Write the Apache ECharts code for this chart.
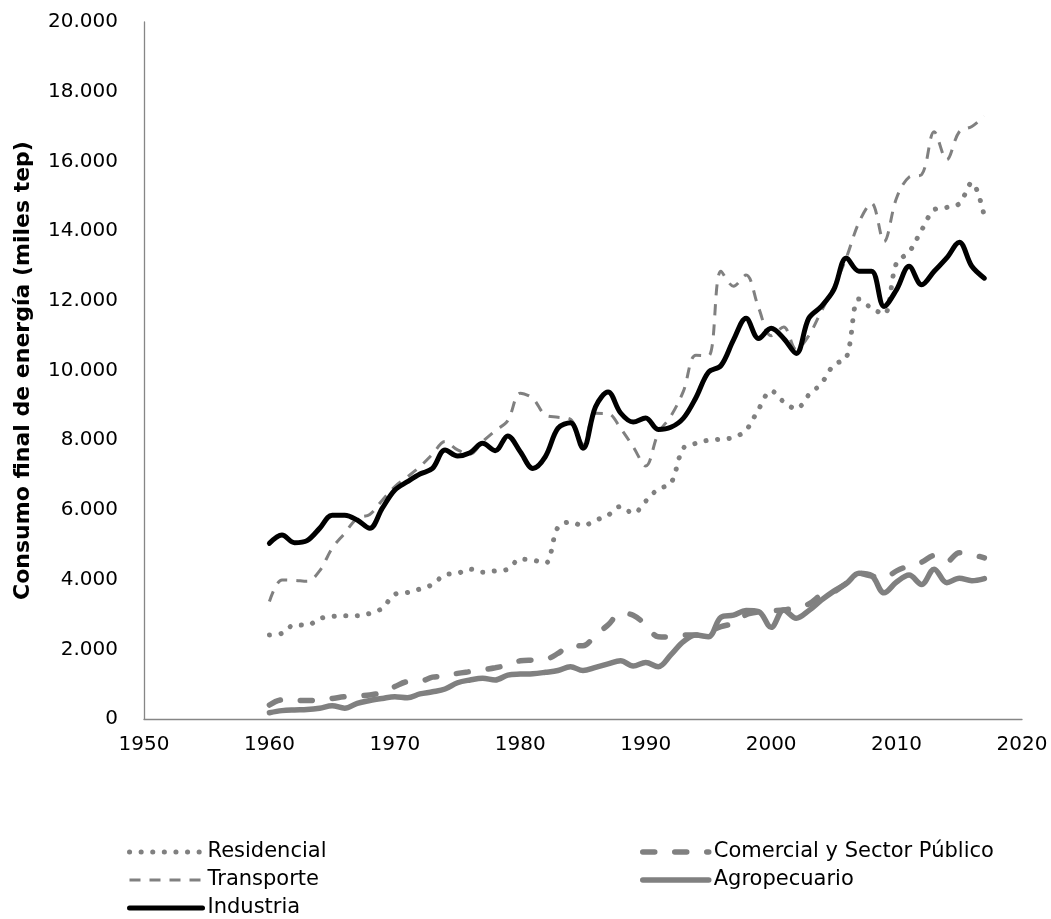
<!DOCTYPE html>
<html>
<head>
<meta charset="utf-8">
<style>
  html, body { margin: 0; padding: 0; background: #fff; }
  #chart { width: 1051px; height: 919px; }
</style>
<script src="https://cdn.jsdelivr.net/npm/echarts@6/dist/echarts.min.js"></script>
</head>
<body>
<div id="chart"></div>
<script>
// years 1960..2017
const years = [
  1960, 1961, 1962, 1963, 1964, 1965, 1966, 1967, 1968, 1969,
  1970, 1971, 1972, 1973, 1974, 1975, 1976, 1977, 1978, 1979,
  1980, 1981, 1982, 1983, 1984, 1985, 1986, 1987, 1988, 1989,
  1990, 1991, 1992, 1993, 1994, 1995, 1996, 1997, 1998, 1999,
  2000, 2001, 2002, 2003, 2004, 2005, 2006, 2007, 2008, 2009,
  2010, 2011, 2012, 2013, 2014, 2015, 2016, 2017
];

const residencial = [
  2410, 2460, 2700, 2690, 2880, 2940, 2960, 2960, 3030, 3180,
  3580, 3630, 3730, 3860, 4140, 4180, 4300, 4210, 4250, 4300,
  4590, 4560, 4470, 5500, 5650, 5550, 5700, 5850, 6100, 5900,
  6250, 6600, 6760, 7770, 7910, 8000, 8030, 8080, 8290, 8890,
  9420, 9100, 8900, 9300, 9630, 10160, 10370, 12050, 11790, 11620,
  13090, 13400, 14030, 14610, 14680, 14790, 15390, 14420
];

const comercial = [
  400, 550, 540, 530, 550, 590, 640, 660, 690, 760,
  930, 1070, 1080, 1200, 1230, 1310, 1360, 1410, 1470, 1550,
  1670, 1690, 1710, 1880, 2120, 2100, 2410, 2700, 3030, 2980,
  2700, 2360, 2350, 2410, 2410, 2500, 2650, 2750, 2990, 3070,
  3100, 3130, 3200, 3300, 3560, 3650, 3900, 4180, 4100, 4050,
  4250, 4400, 4500, 4690, 4520, 4770, 4720, 4620
];

const transporte = [
  3370, 3990, 3980, 3950, 4250, 4900, 5330, 5760, 5870, 6280,
  6670, 6950, 7240, 7600, 7960, 7720, 7600, 7960, 8270, 8560,
  9350, 9200, 8720, 8660, 8600, 7900, 8770, 8760, 8340, 7810,
  7260, 8200, 8690, 9400, 10440, 10420, 12850, 12420, 12740, 11800,
  11000, 11250, 10600, 11000, 11700, 12400, 13240, 14250, 14800, 13700,
  14950, 15550, 15620, 16850, 16050, 16850, 17000, 17300
];

const agropecuario = [
  180, 240, 260, 270, 310, 380, 310, 450, 530, 590,
  640, 610, 720, 780, 860, 1040, 1120, 1170, 1120, 1260,
  1290, 1300, 1340, 1390, 1500, 1390, 1480, 1580, 1670, 1520,
  1620, 1500, 1840, 2220, 2410, 2360, 2920, 2980, 3110, 3080,
  2630, 3130, 2890, 3110, 3410, 3670, 3890, 4180, 4120, 3620,
  3930, 4130, 3860, 4300, 3910, 4040, 3970, 4030
];

const industria = [
  5040, 5280, 5060, 5120, 5470, 5850, 5850, 5710, 5470, 6050,
  6570, 6810, 7030, 7190, 7720, 7550, 7640, 7910, 7700, 8120,
  7670, 7190, 7530, 8340, 8500, 7770, 8960, 9380, 8780, 8520,
  8640, 8310, 8370, 8630, 9220, 9950, 10140, 10880, 11500, 10920,
  11210, 10920, 10490, 11500, 11840, 12320, 13230, 12850, 12850, 11840,
  12320, 12990, 12460, 12850, 13230, 13680, 12990, 12650
];

const FONT = 'DejaVu Sans';
const GRAY = '#808080';

function pairs(values) {
  return years.map((y, i) => [y, values[i]]);
}

function fmtThousands(v) {
  return String(v).replace(/\B(?=(\d{3})+(?!\d))/g, '.');
}

const chart = echarts.init(document.getElementById('chart'));

const legendBase = {
  orient: 'vertical',
  top: 841,
  padding: 0,
  itemWidth: 73,
  itemHeight: 22,
  itemGap: 6,
  itemStyle: { opacity: 0 },
  lineStyle: { width: 'inherit', type: 'inherit', cap: 'inherit' },
  textStyle: { fontFamily: FONT, fontSize: 21, lineHeight: 22, color: '#000' },
};

chart.setOption({
  animation: false,
  backgroundColor: '#fff',
  grid: { left: 144, right: 29, top: 22, bottom: 200, containLabel: false },
  legend: [
    { ...legendBase, left: 127, data: ['Residencial', 'Transporte', 'Industria'] },
    { ...legendBase, left: 640, itemWidth: 66, data: ['Comercial y Sector Público', 'Agropecuario'] },
  ],
  xAxis: {
    type: 'value',
    min: 1950,
    max: 2020,
    interval: 10,
    axisLine: { show: true, lineStyle: { color: '#868686', width: 1.3 } },
    axisTick: { show: false },
    splitLine: { show: false },
    axisLabel: {
      color: '#000',
      fontFamily: FONT,
      fontSize: 20,
      margin: 16,
      formatter: (v) => String(v),
    },
  },
  yAxis: {
    type: 'value',
    min: 0,
    max: 20000,
    interval: 2000,
    name: 'Consumo final de energía (miles tep)',
    nameLocation: 'middle',
    nameGap: 110,
    nameRotate: 90,
    nameTextStyle: { fontFamily: FONT, fontSize: 22, fontWeight: 'bold', color: '#000' },
    axisLine: { show: true, lineStyle: { color: '#868686', width: 1.3 } },
    axisTick: { show: false },
    splitLine: { show: false },
    axisLabel: {
      color: '#000',
      fontFamily: FONT,
      fontSize: 20,
      margin: 26,
      formatter: fmtThousands,
    },
  },
  series: [
    {
      name: 'Residencial',
      type: 'line',
      smooth: 0.35,
      symbol: 'none',
      data: pairs(residencial),
      lineStyle: { color: GRAY, width: 5, type: [0.1, 11.5], cap: 'round' },
      itemStyle: { color: GRAY },
    },
    {
      name: 'Comercial y Sector Público',
      type: 'line',
      smooth: 0.35,
      symbol: 'none',
      data: pairs(comercial),
      lineStyle: { color: GRAY, width: 5.5, type: [12, 20], cap: 'round' },
      itemStyle: { color: GRAY },
    },
    {
      name: 'Transporte',
      type: 'line',
      smooth: 0.35,
      symbol: 'none',
      data: pairs(transporte),
      lineStyle: { color: GRAY, width: 3, type: [11, 9] },
      itemStyle: { color: GRAY },
    },
    {
      name: 'Agropecuario',
      type: 'line',
      smooth: 0.35,
      symbol: 'none',
      data: pairs(agropecuario),
      lineStyle: { color: GRAY, width: 5.5, cap: 'round' },
      itemStyle: { color: GRAY },
    },
    {
      name: 'Industria',
      type: 'line',
      smooth: 0.35,
      symbol: 'none',
      data: pairs(industria),
      lineStyle: { color: '#000', width: 5, cap: 'round' },
      itemStyle: { color: '#000' },
    },
  ],
});
</script>
</body>
</html>
